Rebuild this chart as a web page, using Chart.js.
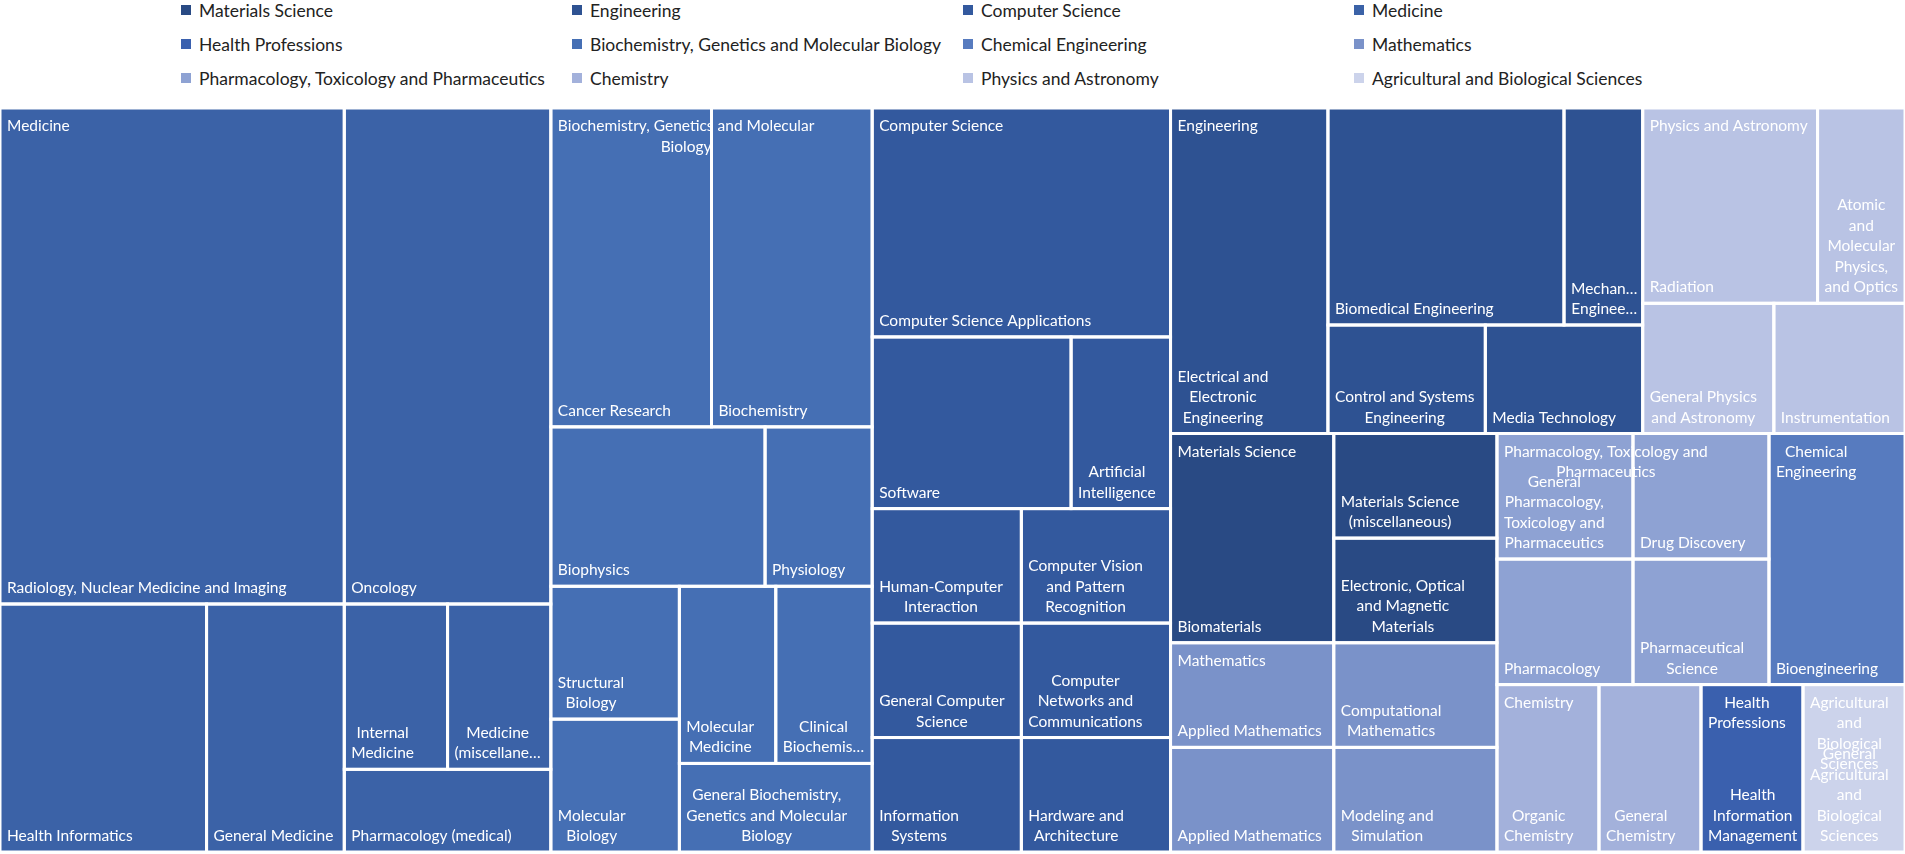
<!DOCTYPE html>
<html>
<head>
<meta charset="utf-8">
<title>Subject areas treemap</title>
<script src="https://cdn.jsdelivr.net/npm/chart.js@4.4.1/dist/chart.umd.min.js"></script>
<style>
  html, body { margin: 0; padding: 0; background: #fff; overflow: hidden; }
  body { width: 1905px; height: 854px; position: relative; font-family: Lato, "Open Sans", sans-serif; }
  #legend { position: absolute; left: 181px; top: -7px; display: grid;
            grid-template-columns: 391px 391px 391px auto; grid-auto-rows: 34px;
            font-size: 17.5px; color: #222; }
  .item { display: flex; align-items: center; white-space: nowrap; }
  .box { width: 10px; height: 10px; margin-right: 8px; flex: none; }
  #wrap { position: absolute; left: 0; top: 108px; width: 1905px; height: 744px; }
</style>
</head>
<body>
<div id="legend"></div>
<div id="wrap"><canvas id="treemap"></canvas></div>
<script>
// ── Data ──────────────────────────────────────────────────────────────
// top level subject areas, biggest first (the order the tiles are laid out in)
const groupNames = [
  'Medicine', 'Biochemistry, Genetics and Molecular Biology', 'Computer Science', 'Engineering',
  'Physics and Astronomy', 'Materials Science', 'Mathematics', 'Pharmacology, Toxicology and Pharmaceutics',
  'Chemical Engineering', 'Chemistry', 'Health Professions', 'Agricultural and Biological Sciences',
];
const groupColors = [
  '#3b62a7', '#456fb4', '#33599e', '#2e5292',
  '#b9c3e4', '#294a84', '#7a92c9', '#8ea2d3',
  '#577bbf', '#a3b1db', '#3a60ae', '#ccd3eb',
];
const legendOrder = [
  'Materials Science', 'Engineering', 'Computer Science', 'Medicine',
  'Health Professions', 'Biochemistry, Genetics and Molecular Biology', 'Chemical Engineering', 'Mathematics',
  'Pharmacology, Toxicology and Pharmaceutics', 'Chemistry', 'Physics and Astronomy', 'Agricultural and Biological Sciences',
];
// how many tiles go in each strip of the squarified layout
const topStrips = [1, 1, 1, 2, 2, 2, 1, 1, 1];

const medicineFields = ['Radiology, Nuclear Medicine and Imaging', 'Oncology', 'Health Informatics', 'General Medicine',
  'Internal Medicine', 'Medicine (miscellaneous)', 'Pharmacology (medical)'];
const medicineCounts = [10, 6, 3, 2, 1, 1, 1];
const medicineStrips = [2, 1, 1, 2, 1];

const biochemFields = ['Cancer Research', 'Biochemistry', 'Biophysics', 'Physiology', 'Structural Biology',
  'Molecular Biology', 'Molecular Medicine', 'Clinical Biochemistry', 'General Biochemistry, Genetics and Molecular Biology'];
const biochemCounts = [3, 3, 2, 1, 1, 1, 1, 1, 1];
const biochemStrips = [2, 2, 2, 2, 1];

const csFields = ['Computer Science Applications', 'Software', 'Artificial Intelligence', 'Human-Computer Interaction',
  'Computer Vision and Pattern Recognition', 'General Computer Science', 'Information Systems',
  'Computer Networks and Communications', 'Hardware and Architecture'];
const csCounts = [4, 2, 1, 1, 1, 1, 1, 1, 1];
const csStrips = [1, 2, 2, 2, 1, 1];

const engFields = ['Electrical and Electronic Engineering', 'Biomedical Engineering', 'Mechanical Engineering',
  'Control and Systems Engineering', 'Media Technology'];
const engCounts = [3, 3, 1, 1, 1];
const engStrips = [1, 2, 1, 1];

const physicsFields = ['Radiation', 'Atomic and Molecular Physics, and Optics', 'General Physics and Astronomy', 'Instrumentation'];
const physicsCounts = [2, 1, 1, 1];
const physicsStrips = [2, 1, 1];

const materialsFields = ['Biomaterials', 'Materials Science (miscellaneous)', 'Electronic, Optical and Magnetic Materials'];
const materialsCounts = [2, 1, 1];
const materialsStrips = [1, 1, 1];

const mathFields = ['Applied Mathematics', 'Applied Mathematics', 'Computational Mathematics', 'Modeling and Simulation'];
const mathCounts = [1, 1, 1, 1];
const mathStrips = [2, 1, 1];

const pharmFields = ['General Pharmacology, Toxicology and Pharmaceutics', 'Pharmacology', 'Drug Discovery', 'Pharmaceutical Science'];
const pharmCounts = [1, 1, 1, 1];
const pharmStrips = [2, 1, 1];

const chemEngFields = ['Bioengineering'];
const chemEngCounts = [2];
const chemEngStrips = [1];

const chemistryFields = ['Organic Chemistry', 'General Chemistry'];
const chemistryCounts = [1, 1];
const chemistryStrips = [1, 1];

const healthFields = ['Health Information Management'];
const healthCounts = [1];
const healthStrips = [1];

const agriFields = ['General Agricultural and Biological Sciences'];
const agriCounts = [1];
const agriStrips = [1];

const allFields = [medicineFields, biochemFields, csFields, engFields, physicsFields, materialsFields,
  mathFields, pharmFields, chemEngFields, chemistryFields, healthFields, agriFields];
const allCounts = [medicineCounts, biochemCounts, csCounts, engCounts, physicsCounts, materialsCounts,
  mathCounts, pharmCounts, chemEngCounts, chemistryCounts, healthCounts, agriCounts];
const allStrips = [medicineStrips, biochemStrips, csStrips, engStrips, physicsStrips, materialsStrips,
  mathStrips, pharmStrips, chemEngStrips, chemistryStrips, healthStrips, agriStrips];

// ── Layout ────────────────────────────────────────────────────────────
const sum = a => a.reduce((s, v) => s + v, 0);

// strips run along the shorter side of what is left, like a squarified treemap
function layoutStrips(values, strips, x0, y0, x1, y1) {
  const rects = [];
  let total = sum(values), i = 0;
  strips.forEach(n => {
    const part = values.slice(i, i + n);
    const s = sum(part);
    const w = x1 - x0, h = y1 - y0;
    if (w >= h) {
      const sw = w * s / total;
      let yy = y0;
      part.forEach(v => { const ih = h * v / s; rects.push({ x0, x1: x0 + sw, y0: yy, y1: yy + ih }); yy += ih; });
      x0 += sw;
    } else {
      const sh = h * s / total;
      let xx = x0;
      part.forEach(v => { const iw = w * v / s; rects.push({ x0: xx, x1: xx + iw, y0, y1: y0 + sh }); xx += iw; });
      y0 += sh;
    }
    total -= s;
    i += n;
  });
  return rects;
}

const wrap = document.getElementById('wrap');
const aspect = wrap.clientWidth / wrap.clientHeight;
const groupTotals = allCounts.map(sum);
const groupRects = layoutStrips(groupTotals, topStrips, 0, 0, aspect, 1);

const datasets = groupNames.map((g, gi) => {
  const r = groupRects[gi];
  const cells = layoutStrips(allCounts[gi], allStrips[gi], r.x0, r.y0, r.x1, r.y1);
  return {
    label: g,
    group: r,
    backgroundColor: groupColors[gi],
    pointRadius: 0,
    data: cells.map((c, i) => ({ ...c, x: (c.x0 + c.x1) / 2, y: (c.y0 + c.y1) / 2, name: allFields[gi][i], v: allCounts[gi][i] })),
  };
});

// ── Legend ────────────────────────────────────────────────────────────
const legendEl = document.getElementById('legend');
legendOrder.forEach(name => {
  const item = document.createElement('div');
  item.className = 'item';
  item.innerHTML = `<span class="box" style="background:${groupColors[groupNames.indexOf(name)]}"></span><span>${name}</span>`;
  legendEl.appendChild(item);
});

// ── Drawing ───────────────────────────────────────────────────────────
const FONT = '15.5px Lato, "Open Sans", sans-serif';
const PAD = 7, LINE = 20.5;

function fitWord(ctx, s, maxW) {
  if (ctx.measureText(s).width <= maxW) return s;
  while (s.length > 1 && ctx.measureText(s + '…').width > maxW) s = s.slice(0, -1);
  return s + '…';
}

function wrapText(ctx, text, maxW) {
  const lines = [];
  let cur = '';
  text.split(' ').forEach(w => {
    const t = cur ? cur + ' ' + w : w;
    if (!cur || ctx.measureText(t).width <= maxW) cur = t;
    else { lines.push(cur); cur = w; }
  });
  if (cur) lines.push(cur);
  return lines.map(l => fitWord(ctx, l, maxW));
}

function drawBlock(ctx, lines, left, firstBase) {
  const bw = Math.max(...lines.map(l => ctx.measureText(l).width));
  lines.forEach((l, i) => ctx.fillText(l, left + bw / 2, firstBase + i * LINE));
}

const treemapCells = {
  id: 'treemapCells',
  beforeDatasetsDraw(chart) {
    const { ctx, scales: { x, y } } = chart;
    const box = r => {
      const l = x.getPixelForValue(r.x0), rr = x.getPixelForValue(r.x1);
      const t = y.getPixelForValue(r.y0), b = y.getPixelForValue(r.y1);
      return { l, t, w: rr - l, h: b - t };
    };
    ctx.save();
    chart.data.datasets.forEach(ds => ds.data.forEach(c => {
      const p = box(c);
      ctx.fillStyle = ds.backgroundColor;
      ctx.fillRect(p.l, p.t, p.w, p.h);
    }));

    ctx.font = FONT;
    ctx.fillStyle = '#fff';
    ctx.textAlign = 'center';
    ctx.textBaseline = 'alphabetic';
    // parent labels sit under the cell borders
    chart.data.datasets.forEach(ds => {
      const p = box(ds.group);
      drawBlock(ctx, wrapText(ctx, ds.label, p.w - 12), p.l + PAD, p.t + 23);
    });

    ctx.strokeStyle = '#fff';
    ctx.lineWidth = 3;
    chart.data.datasets.forEach(ds => ds.data.forEach(c => {
      const p = box(c);
      ctx.strokeRect(p.l, p.t, p.w, p.h);
    }));

    ctx.fillStyle = '#fff';
    chart.data.datasets.forEach(ds => ds.data.forEach(c => {
      const p = box(c);
      const lines = wrapText(ctx, c.name, p.w - 12);
      drawBlock(ctx, lines, p.l + PAD, p.t + p.h - 11 - (lines.length - 1) * LINE);
    }));
    ctx.restore();
  },
};

new Chart(document.getElementById('treemap'), {
  type: 'scatter',
  data: { datasets },
  options: {
    responsive: true,
    maintainAspectRatio: false,
    animation: false,
    layout: { padding: 0 },
    plugins: {
      legend: { display: false },
      tooltip: { callbacks: { label: c => `${c.raw.name}: ${c.raw.v}` } },
    },
    scales: {
      x: { type: 'linear', min: 0, max: aspect, display: false },
      y: { type: 'linear', min: 0, max: 1, reverse: true, display: false },
    },
  },
  plugins: [treemapCells],
});
</script>
</body>
</html>
